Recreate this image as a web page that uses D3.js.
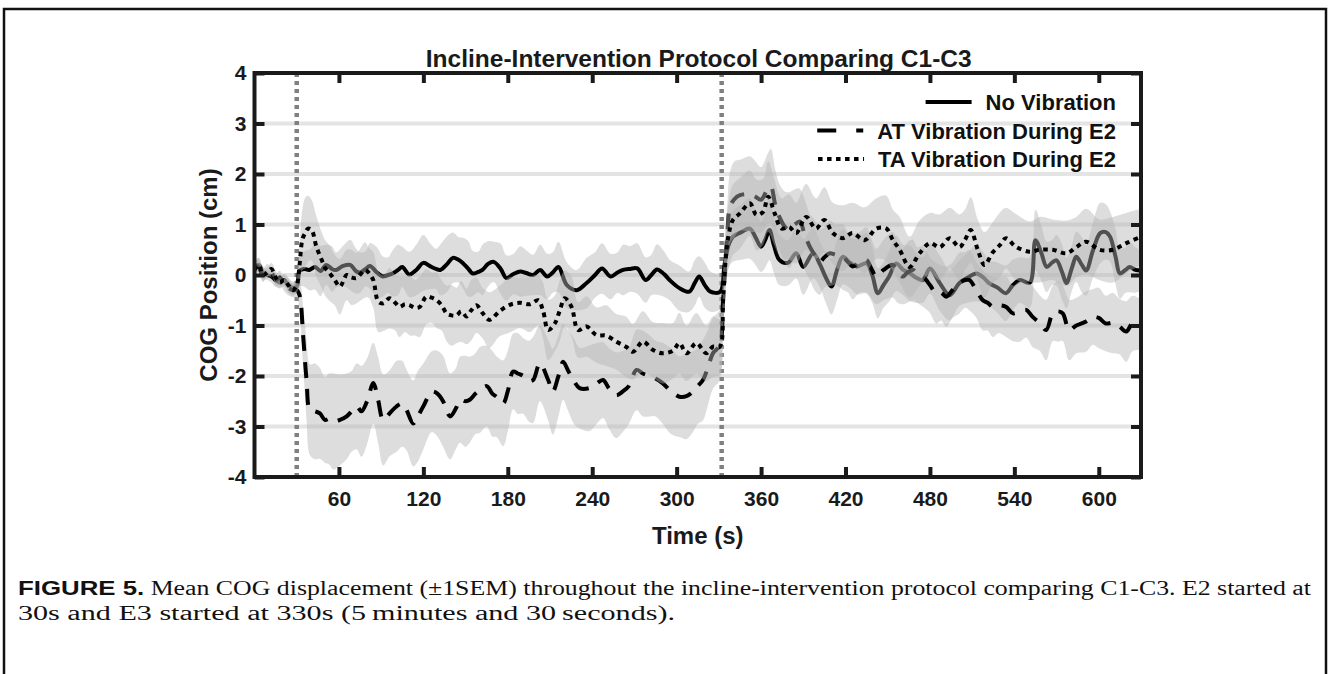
<!DOCTYPE html>
<html>
<head>
<meta charset="utf-8">
<script src="https://cdn.jsdelivr.net/npm/d3@7"></script>
<style>
  html, body { margin: 0; padding: 0; background: #fff; }
  svg { display: block; }
</style>
</head>
<body>
<svg id="chart" width="1329" height="674"></svg>
<script>
// ---------------- DATA ----------------
const chartTitle = "Incline-Intervention Protocol Comparing C1-C3";
const xLabel = "Time (s)";
const yLabel = "COG Position (cm)";
const xTicks = [60, 120, 180, 240, 300, 360, 420, 480, 540, 600];
const yTicks = [-4, -3, -2, -1, 0, 1, 2, 3, 4];
const gridValues = [-3, -2, -1, 0, 1, 2, 3];
const eventTimes = [30, 332];
const seriesNames = ["No Vibration", "AT Vibration During E2", "TA Vibration During E2"];

// rows: [time (s), mean COG (cm), SEM (cm)]
const noVibration = [
  [0,0.15,0.12],[3,0.2,0.14],[6,0.05,0.12],[9,0.0,0.1],[12,-0.03,0.12],[15,-0.1,0.14],[18,-0.15,0.1],[21,-0.1,0.12],[24,-0.2,0.15],[27,-0.25,0.12],[30,-0.23,0.15],
  [32,0.08,0.3],[35,0.12,0.35],[39,0.1,0.4],[43,0.16,0.45],[47,0.08,0.5],[51,0.2,0.4],[55,0.12,0.45],[58,0.1,0.35],[63,0.18,0.4],[68,0.2,0.5],
  [72,0.08,0.45],[75,0.05,0.4],[79,0.12,0.35],[82,0.18,0.45],[87,0.05,0.5],[91,-0.03,0.4],[95,0.0,0.35],[98,0.03,0.45],[102,0.1,0.5],[105,0.16,0.4],
  [110,0.01,0.45],[115,0.1,0.5],[120,0.24,0.55],[125,0.17,0.45],[129,0.12,0.4],[132,0.1,0.5],[137,0.22,0.55],[141,0.34,0.5],[145,0.3,0.45],[148,0.24,0.5],
  [152,0.12,0.55],[155,0.03,0.45],[159,0.06,0.4],[162,0.1,0.5],[166,0.22,0.45],[170,0.26,0.4],[175,0.12,0.5],[179,-0.06,0.45],[184,0.02,0.4],[189,0.07,0.5],
  [193,0.04,0.45],[198,0.0,0.4],[203,0.1,0.5],[208,-0.03,0.45],[212,0.05,0.4],[216,0.16,0.5],[222,-0.2,0.45],[229,-0.3,0.4],[236,-0.16,0.5],[242,0.0,0.45],
  [247,0.13,0.5],[253,-0.03,0.45],[258,0.05,0.4],[262,0.1,0.5],[267,0.12,0.45],[272,0.13,0.5],[278,-0.1,0.45],[282,0.0,0.4],[286,0.11,0.5],[291,0.02,0.45],
  [295,-0.1,0.4],[302,-0.26,0.45],[309,-0.33,0.4],[313,-0.15,0.45],[316,-0.03,0.4],[320,-0.2,0.45],[324,-0.33,0.4],[331,-0.33,0.35],[334,0.2,0.4],[337,0.6,0.45],
  [340,0.76,0.5],[346,0.85,0.55],[352,0.92,0.6],[356,0.75,0.55],[360,0.56,0.5],[363,0.7,0.55],[366,0.89,0.6],[369,0.6,0.55],[373,0.3,0.5],[379,0.24,0.45],
  [385,0.43,0.5],[390,0.16,0.55],[397,0.43,0.5],[402,0.2,0.45],[406,-0.05,0.5],[410,-0.23,0.55],[414,0.1,0.6],[418,0.36,0.55],[423,0.25,0.5],[428,0.17,0.55],
  [435,0.23,0.6],[439,0.0,0.55],[443,-0.36,0.5],[447,-0.2,0.45],[451,-0.03,0.5],[456,0.23,0.55],[461,0.1,0.5],[466,0.03,0.55],[470,-0.05,0.5],[475,-0.1,0.45],
  [480,0.13,0.5],[487,-0.16,0.55],[494,-0.4,0.5],[501,-0.16,0.45],[507,-0.05,0.5],[513,0.03,0.55],[518,-0.05,0.5],[522,-0.16,0.45],[528,-0.25,0.5],[534,-0.36,0.55],
  [539,-0.2,0.5],[544,-0.1,0.45],[551,-0.15,0.5],[555,0.69,0.6],[559,0.45,0.55],[563,0.16,0.5],[567,0.25,0.45],[570,0.29,0.5],[574,0.05,0.55],[577,-0.16,0.5],
  [581,0.15,0.45],[584,0.36,0.5],[588,0.2,0.55],[591,0.09,0.5],[596,0.5,0.55],[601,0.83,0.6],[605,0.85,0.55],[608,0.76,0.5],[612,0.35,0.55],[615,0.03,0.5],
  [619,0.1,0.45],[622,0.16,0.5],[626,0.1,0.45],[630,0.09,0.4]
];

const atVibration = [
  [0,0.2,0.12],[3,0.15,0.12],[6,0.0,0.14],[9,0.1,0.12],[12,0.05,0.1],[15,-0.1,0.12],[18,-0.05,0.14],[21,-0.2,0.12],[24,-0.25,0.15],[27,-0.3,0.14],[30,-0.3,0.15],
  [32,-0.4,0.3],[34.6,-1.22,0.6],[37,-2.08,0.8],[39.4,-2.67,0.9],[43,-2.7,0.95],[46.5,-2.74,0.9],[50,-2.87,0.85],[53,-2.85,0.9],[56,-2.9,0.95],[60.7,-2.87,0.9],
  [65.5,-2.8,0.85],[69,-2.7,0.8],[72.6,-2.6,0.85],[76,-2.7,0.9],[80,-2.5,0.85],[84.4,-2.14,0.8],[87.8,-2.47,0.85],[91.5,-2.87,0.9],[96,-2.74,0.85],[101,-2.6,0.9],
  [105,-2.55,0.85],[108,-2.67,0.8],[112.8,-2.94,0.85],[116,-2.8,0.9],[120,-2.6,0.85],[126,-2.31,0.8],[130,-2.35,0.85],[134,-2.5,0.9],[139,-2.8,0.85],[143,-2.65,0.8],
  [146,-2.47,0.85],[150,-2.5,0.9],[153,-2.47,0.85],[157,-2.35,0.8],[160,-2.28,0.85],[165,-2.2,0.8],[169,-2.35,0.85],[172,-2.41,0.8],[176.7,-2.54,0.85],[180,-2.3,0.8],
  [183.8,-1.91,0.75],[187,-1.95,0.8],[191,-2.0,0.75],[195,-2.1,0.8],[198,-2.08,0.85],[202.8,-1.75,0.75],[208.7,-2.08,0.8],[212,-2.31,0.85],[216,-2.0,0.8],[219.3,-1.72,0.75],
  [223,-1.9,0.8],[227,-2.1,0.85],[231,-2.24,0.8],[238,-2.24,0.85],[243,-2.15,0.8],[247.7,-2.08,0.75],[252,-2.25,0.8],[257,-2.38,0.85],[262,-2.3,0.8],[266,-2.2,0.75],
  [271.5,-1.88,0.8],[276,-1.95,0.85],[281,-2.0,0.8],[285,-2.05,0.75],[290,-2.14,0.8],[296,-2.3,0.85],[302,-2.41,0.8],[307,-2.4,0.85],[311.6,-2.31,0.8],[315,-2.2,0.75],
  [318.7,-2.08,0.8],[322,-1.85,0.75],[325.8,-1.55,0.7],[330.6,-1.39,0.7],[333,-0.5,0.6],[336,0.8,0.6],[338,1.35,0.7],[341,1.5,0.75],[345,1.58,0.7],[352,1.6,0.75],
  [356,1.55,0.7],[360,1.49,0.65],[365,1.72,0.7],[367,1.75,0.75],[370,1.4,0.7],[373,1.15,0.65],[377,0.95,0.7],[380,0.89,0.75],[384,1.0,0.7],[387.5,1.06,0.65],
  [391,0.8,0.7],[394.6,0.56,0.65],[398,0.4,0.7],[401.7,0.26,0.65],[405,0.35,0.6],[408.8,0.43,0.65],[413,0.4,0.6],[418,0.36,0.65],[422,0.25,0.6],[425,0.17,0.65],
  [430,0.25,0.6],[434.8,0.3,0.65],[438,0.15,0.6],[442,-0.03,0.55],[447,0.1,0.6],[453.7,0.2,0.65],[457,0.05,0.6],[460.8,-0.03,0.55],[464,0.05,0.6],[468,0.1,0.6],
  [471,0.0,0.55],[475,-0.03,0.6],[480,-0.2,0.55],[484.5,-0.36,0.6],[488,-0.35,0.55],[491.6,-0.43,0.6],[496,-0.3,0.55],[501,-0.16,0.6],[505,-0.1,0.55],[508,-0.1,0.6],
  [513,-0.3,0.55],[517.6,-0.5,0.6],[521,-0.55,0.55],[524.7,-0.63,0.6],[529,-0.6,0.55],[534,-0.63,0.6],[539,-0.76,0.55],[544,-0.72,0.6],[548.4,-0.69,0.55],[553,-0.83,0.6],
  [558,-0.95,0.55],[562.6,-1.09,0.6],[567.3,-0.76,0.55],[571,-0.72,0.6],[574.4,-0.76,0.55],[579,-1.09,0.6],[584,-1.0,0.55],[591,-0.92,0.6],[595.7,-0.83,0.55],[600,-0.85,0.6],
  [605,-0.96,0.55],[610,-0.95,0.6],[614.7,-1.02,0.55],[619.5,-1.12,0.6],[624,-0.96,0.55],[630,-0.98,0.5]
];

const taVibration = [
  [0,0.1,0.12],[3,0.2,0.14],[6,0.0,0.12],[9,0.05,0.1],[12,0.12,0.12],[15,-0.05,0.14],[18,-0.15,0.12],[21,-0.1,0.12],[24,-0.2,0.14],[27,-0.3,0.12],[30,-0.2,0.15],
  [32,0.2,0.4],[34,0.7,0.6],[36,0.83,0.7],[38,0.92,0.65],[40.6,0.89,0.6],[44,0.56,0.6],[47.7,0.3,0.55],[50,0.15,0.55],[53.6,0.03,0.55],[57,-0.1,0.5],
  [60.7,-0.23,0.55],[65.5,0.0,0.5],[69,-0.05,0.55],[72.6,-0.06,0.5],[78.5,0.1,0.55],[81,0.05,0.5],[84.4,-0.1,0.55],[88,-0.53,0.6],[91.5,-0.56,0.55],[96,-0.46,0.6],
  [100,-0.55,0.55],[103,-0.63,0.6],[107,-0.58,0.55],[110.4,-0.6,0.6],[114,-0.65,0.55],[117.5,-0.63,0.6],[122,-0.43,0.55],[126,-0.45,0.5],[129.4,-0.5,0.55],[133,-0.6,0.5],
  [136.5,-0.76,0.55],[140,-0.8,0.6],[143.6,-0.8,0.55],[147,-0.72,0.6],[150.7,-0.82,0.55],[154,-0.7,0.6],[157.8,-0.6,0.55],[162,-0.75,0.5],[167,-0.89,0.55],[174,-0.72,0.5],
  [181.5,-0.59,0.55],[188.6,-0.55,0.5],[195.7,-0.58,0.55],[201.6,-0.5,0.5],[205,-0.7,0.55],[208.7,-1.09,0.6],[213.4,-0.96,0.55],[217,-0.7,0.6],[220.5,-0.46,0.55],[225.3,-0.63,0.6],
  [230,-1.09,0.55],[236,-1.02,0.6],[243,-1.19,0.55],[250,-1.2,0.6],[257,-1.32,0.55],[264,-1.42,0.6],[269,-1.52,0.55],[276,-1.32,0.6],[283,-1.48,0.55],[290,-1.55,0.6],
  [297.4,-1.5,0.55],[302,-1.35,0.6],[307,-1.55,0.55],[314,-1.35,0.6],[321,-1.55,0.55],[325.8,-1.42,0.6],[330.6,-1.42,0.55],[333,-0.5,0.6],[335,0.36,0.6],[337,0.8,0.65],
  [340,1.09,0.7],[345,1.22,0.7],[352,1.42,0.65],[356.7,1.19,0.7],[361.4,1.25,0.65],[365,1.55,0.7],[369.7,1.22,0.65],[374.4,0.92,0.6],[380,0.95,0.65],[385,0.83,0.6],
  [392,1.15,0.65],[399,0.92,0.6],[405,1.09,0.65],[411,0.83,0.6],[418,0.73,0.65],[425,0.83,0.6],[433.6,0.69,0.65],[442,0.92,0.6],[449,0.92,0.65],[453.7,0.69,0.6],
  [458.5,0.5,0.65],[465.6,0.16,0.6],[472.6,0.43,0.65],[480,0.63,0.6],[487,0.55,0.65],[494,0.73,0.6],[501,0.55,0.65],[505,0.7,0.6],[509,0.89,0.65],[514,0.5,0.6],
  [518.8,0.2,0.65],[524.7,0.45,0.6],[530,0.6,0.65],[534,0.73,0.6],[541,0.56,0.65],[551,0.46,0.6],[558,0.5,0.65],[567.3,0.5,0.6],[577,0.43,0.65],[584,0.55,0.6],
  [591,0.66,0.65],[600.5,0.5,0.6],[610,0.5,0.65],[619.5,0.63,0.6],[630,0.76,0.55]
];

const captionBold = "FIGURE 5.";
const captionLine1 = " Mean COG displacement (\u00b11SEM) throughout the incline-intervention protocol comparing C1-C3. E2 started at";
const captionLine2 = "30s and E3 started at 330s (5\u2009minutes and 30\u2009seconds).";

// ---------------- DRAW ----------------
const svg = d3.select("#chart");
const plot = { left: 254.5, right: 1141, top: 73, bottom: 477 };

const x = d3.scaleLinear().domain([0, 630]).range([plot.left, plot.right]);
const y = d3.scaleLinear().domain([-4, 4]).range([plot.bottom, plot.top]);

const sansBold = "'Liberation Sans', Arial, Helvetica, sans-serif";
const serif = "'Liberation Serif', 'Times New Roman', Times, serif";

// outer figure border
svg.append("rect").attr("x", 4).attr("y", 9).attr("width", 1322).attr("height", 700)
  .attr("fill", "none").attr("stroke", "#111").attr("stroke-width", 2.5);

svg.append("defs").append("clipPath").attr("id", "clip")
  .append("rect").attr("x", plot.left).attr("y", plot.top)
  .attr("width", plot.right - plot.left).attr("height", plot.bottom - plot.top);

const g = svg.append("g").attr("clip-path", "url(#clip)");

// grid lines
g.selectAll("line.grid").data(gridValues).enter().append("line")
  .attr("x1", plot.left).attr("x2", plot.right)
  .attr("y1", d => y(d)).attr("y2", d => y(d))
  .attr("stroke", "#e4e4e4").attr("stroke-width", 4);

// event lines
g.selectAll("line.event").data(eventTimes).enter().append("line")
  .attr("x1", d => x(d)).attr("x2", d => x(d))
  .attr("y1", plot.top).attr("y2", plot.bottom)
  .attr("stroke", "#808080").attr("stroke-width", 4.5)
  .attr("stroke-dasharray", "4,4");

const series = [
  { name: seriesNames[0], data: noVibration, dash: null },
  { name: seriesNames[1], data: atVibration, dash: "16,11" },
  { name: seriesNames[2], data: taVibration, dash: "4.5,4.5" }
];

const curve = d3.curveCatmullRom.alpha(0.5);
const area = d3.area().x(d => x(d[0])).y0(d => y(d[1] - d[2])).y1(d => y(d[1] + d[2])).curve(curve);
const line = d3.line().x(d => x(d[0])).y(d => y(d[1])).curve(curve);

series.forEach(s => {
  g.append("path").attr("d", area(s.data))
    .attr("fill", "#b4b4b4").attr("fill-opacity", 0.45).attr("stroke", "none");
  g.append("path").attr("d", line(s.data))
    .attr("fill", "none").attr("stroke", "#000").attr("stroke-width", 4)
    .attr("stroke-dasharray", s.dash).attr("stroke-linejoin", "round");
});

// axes
const tickLen = 10;
const axB = d3.axisBottom(x).tickValues(xTicks).tickSizeInner(-tickLen).tickSizeOuter(0).tickPadding(14);
const axT = d3.axisTop(x).tickValues(xTicks).tickSizeInner(-tickLen).tickSizeOuter(0).tickFormat("");
const axL = d3.axisLeft(y).tickValues(yTicks).tickSizeInner(-tickLen).tickSizeOuter(0).tickPadding(8).tickFormat(d => String(d));
const axR = d3.axisRight(y).tickValues(yTicks).tickSizeInner(-tickLen).tickSizeOuter(0).tickFormat("");

function styleAxis(sel) {
  sel.select(".domain").remove();
  sel.selectAll(".tick line").attr("stroke", "#1a1a1a").attr("stroke-width", 4);
  sel.selectAll(".tick text").attr("fill", "#1a1a1a")
    .style("font-family", sansBold).style("font-weight", "bold").style("font-size", "21px");
}
svg.append("g").attr("transform", `translate(0,${plot.bottom})`).call(axB).call(styleAxis);
svg.append("g").attr("transform", `translate(0,${plot.top})`).call(axT).call(styleAxis);
svg.append("g").attr("transform", `translate(${plot.left},0)`).call(axL).call(styleAxis);
svg.append("g").attr("transform", `translate(${plot.right},0)`).call(axR).call(styleAxis);

// frame
svg.append("rect").attr("x", plot.left).attr("y", plot.top)
  .attr("width", plot.right - plot.left).attr("height", plot.bottom - plot.top)
  .attr("fill", "none").attr("stroke", "#1a1a1a").attr("stroke-width", 4);

// title & labels
svg.append("text").attr("x", (plot.left + plot.right) / 2 + 1).attr("y", 67)
  .attr("text-anchor", "middle").attr("fill", "#1a1a1a")
  .style("font-family", sansBold).style("font-weight", "bold").style("font-size", "24.5px")
  .text(chartTitle);

svg.append("text").attr("x", (plot.left + plot.right) / 2).attr("y", 544)
  .attr("text-anchor", "middle").attr("fill", "#1a1a1a")
  .style("font-family", sansBold).style("font-weight", "bold").style("font-size", "24px")
  .text(xLabel);

svg.append("text")
  .attr("transform", `translate(217,${(plot.top + plot.bottom) / 2}) rotate(-90)`)
  .attr("text-anchor", "middle").attr("fill", "#1a1a1a")
  .style("font-family", sansBold).style("font-weight", "bold").style("font-size", "24px")
  .text(yLabel);

// legend
const legendRight = 1116;
const legendRows = [110, 138.5, 167];
series.forEach((s, i) => {
  const t = svg.append("text").attr("x", legendRight).attr("y", legendRows[i])
    .attr("text-anchor", "end").attr("fill", "#111")
    .style("font-family", sansBold).style("font-weight", "bold").style("font-size", "22px")
    .text(s.name);
  const w = t.node().getComputedTextLength();
  const x1 = legendRight - w - 60, x2 = legendRight - w - 14;
  const ly = legendRows[i] - 8;
  svg.append("line").attr("x1", x1).attr("x2", x2).attr("y1", ly).attr("y2", ly)
    .attr("stroke", "#000").attr("stroke-width", 4)
    .attr("stroke-dasharray", s.dash ? (i === 1 ? "19,20" : s.dash) : null);
});

// caption
const capX = 18, capRight = 1311, cap2Right = 675;
const cap1 = svg.append("text").attr("x", capX).attr("y", 595).attr("fill", "#111");
cap1.append("tspan").style("font-family", sansBold).style("font-weight", "bold").style("font-size", "20px").text(captionBold);
cap1.append("tspan").style("font-family", serif).style("font-size", "20px").text(captionLine1);
cap1.attr("textLength", capRight - capX).attr("lengthAdjust", "spacingAndGlyphs");

svg.append("text").attr("x", capX).attr("y", 620).attr("fill", "#111")
  .style("font-family", serif).style("font-size", "20px")
  .attr("textLength", cap2Right - capX).attr("lengthAdjust", "spacingAndGlyphs")
  .text(captionLine2);
</script>
</body>
</html>
